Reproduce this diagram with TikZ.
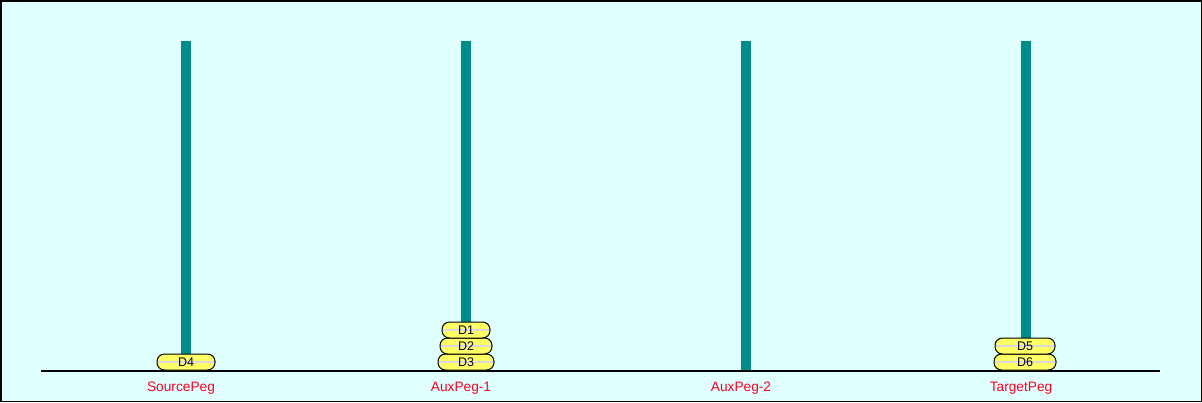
\documentclass[tikz,border=0pt]{standalone}
\usepackage{fontspec}
\setmainfont{Liberation Sans}
\definecolor{pegteal}{RGB}{0,139,139}
\definecolor{bgcyan}{RGB}{224,255,255}
\definecolor{diskyellow}{RGB}{255,255,102}
\definecolor{labelred}{RGB}{255,0,32}
\usetikzlibrary{positioning}

\begin{document}
\begin{tikzpicture}[x=1pt,y=-1pt,
    peg/.style={fill=pegteal, inner sep=0pt, outer sep=0pt, minimum width=10pt, minimum height=330pt},
    disk/.style={draw=black, line width=1pt, fill=diskyellow, rounded corners=7.5pt,
        minimum height=16pt, inner sep=0pt, outer sep=0pt,
        font=\fontsize{12.5}{13}\selectfont,
        path picture={\draw[black!15, line width=2pt] (path picture bounding box.west) -- (path picture bounding box.east);}},
    peglabel/.style={text=labelred, anchor=base, font=\fontsize{13.7}{14}\selectfont}]
    % Frame
    \useasboundingbox (0,0) rectangle (1202,402);
    \draw[fill=bgcyan, line width=1.5pt] (0.75,0.75) rectangle (1201.25,401.25);

    % Pegs
    \foreach \x/\name in {186/src,466/auxa,746/auxb,1026/tgt} {
        \node[peg] (\name) at (\x,206) {};
    }

    % Base
    \coordinate (bl) at (41,371);
    \coordinate (br) at (1160,371);
    \draw[line width=2pt] (bl) -- (br);

    % Disks
    \node[disk, minimum width=58pt] (d4) at (186,362) {D4};
    \node[disk, minimum width=56pt] (d3) at (466,362) {D3};
    \node[disk, minimum width=52pt, above=0pt of d3] (d2) {D2};
    \node[disk, minimum width=48pt, above=0pt of d2] (d1) {D1};
    \node[disk, minimum width=62pt] (d6) at (1025,362) {D6};
    \node[disk, minimum width=60pt, above=0pt of d6] (d5) {D5};

    % Labels
    \node[peglabel] (lsrc) at (181,391) {SourcePeg};
    \node[peglabel] (lauxa) at (461,391) {AuxPeg-1};
    \node[peglabel] (lauxb) at (741,391) {AuxPeg-2};
    \node[peglabel] (ltgt) at (1021,391) {TargetPeg};
\end{tikzpicture}
\end{document}
